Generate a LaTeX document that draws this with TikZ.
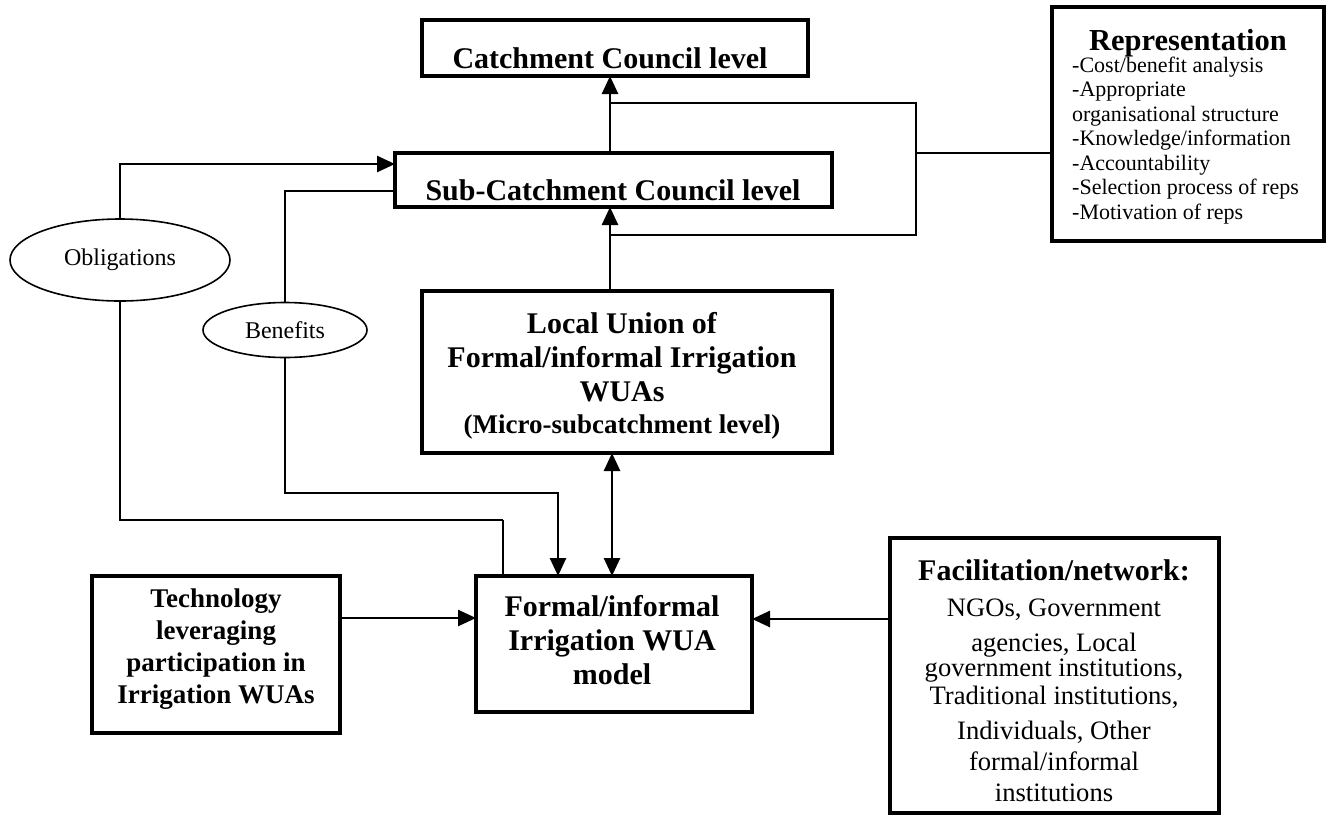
\documentclass[tikz,border=0pt]{standalone}
\usepackage{fontspec}
\setmainfont{Liberation Serif}
\usetikzlibrary{arrows.meta,shapes.geometric}
\begin{document}
\begin{tikzpicture}[x=1pt,y=-1pt,
  box/.style={draw, line width=3.3pt, inner sep=0pt, outer sep=0pt},
  oval/.style={draw, ellipse, line width=1.6pt, inner sep=0pt, font=\fontsize{24}{28}\selectfont},
  wire/.style={line width=2.6pt},
  thinwire/.style={line width=1.4pt},
  arr/.style={line width=2.6pt, -{Triangle[length=18pt,width=16pt]}},
  darr/.style={line width=2.6pt, {Triangle[length=18pt,width=16pt]}-{Triangle[length=18pt,width=16pt]}},
  bt/.style={font=\fontsize{30}{34}\selectfont\bfseries, inner sep=0pt, align=center},
  rt/.style={font=\fontsize{22}{24.5}\selectfont, inner sep=0pt, align=left},
]
\useasboundingbox (0,0) rectangle (1326,815);

% boxes
\node[box, minimum width=386pt, minimum height=56pt] (cat) at (615,48) {};
\node[box, minimum width=437pt, minimum height=54pt] (sub) at (613.5,180) {};
\node[box, minimum width=272pt, minimum height=234pt] (rep) at (1188,124) {};
\node[box, minimum width=410pt, minimum height=162pt] (loc) at (627,372) {};
\node[box, minimum width=276pt, minimum height=136pt] (wua) at (614,644) {};
\node[box, minimum width=248pt, minimum height=157pt] (tech) at (216,654.5) {};
\node[box, minimum width=329pt, minimum height=275pt] (fac) at (1054.5,675.5) {};

% ovals
\node[oval, minimum width=220pt, minimum height=82pt] (obl) at (120,260) {Obligations};
\node[oval, minimum width=164pt, minimum height=55pt] (ben) at (285,330) {Benefits};

% texts (multi-line nodes: base = baseline of last line)
\node[bt, anchor=base] (catT) at (610,68) {Catchment Council level};
\node[bt, anchor=base] (subT) at (613,200) {Sub-Catchment Council level};
\node[bt, anchor=base, font=\fontsize{30.5}{34}\selectfont\bfseries] (repT) at (1188,50) {Representation};
\node[rt, anchor=base west] (repL) at (1072,219) {-Cost/benefit analysis\\-Appropriate\\organisational structure\\-Knowledge/information\\-Accountability\\-Selection process of reps\\-Motivation of reps};
\node[bt, anchor=base] (locT) at (622,433) {Local Union of\\Formal/informal Irrigation\\WUAs\\[-2pt]{\fontsize{27}{30}\selectfont (Micro-subcatchment level)}};
\node[bt, anchor=base] (wuaT) at (612,684) {Formal/informal\\Irrigation WUA\\model};
\node[bt, anchor=base, font=\fontsize{27}{32}\selectfont\bfseries] (techT) at (216,703) {Technology\\leveraging\\participation in\\Irrigation WUAs};
\node[inner sep=0pt, align=center, anchor=base, font=\fontsize{26.6}{30}\selectfont] (facT) at (1054,801)
  {{\fontsize{30}{34}\selectfont\bfseries Facilitation/network:}\\[6pt]
   NGOs, Government\\[5pt]
   agencies, Local\\[-5pt]
   government institutions,\\[-2pt]
   Traditional institutions,\\[5pt]
   Individuals, Other\\[1pt]
   formal/informal\\[1pt]
   institutions};

% helper coordinates
\coordinate (ax) at (610,0);
\coordinate (dx) at (612,0);
\coordinate (y164) at (0,164);
\coordinate (y191) at (0,191);
\coordinate (c1) at (503,520);
\coordinate (c2) at (558,493);
\coordinate (bk1) at (610,103);
\coordinate (bk2) at (916,103);
\coordinate (bk3) at (916,235);
\coordinate (bkm) at (916,153);
\coordinate (y618) at (0,618);
\coordinate (y619) at (0,619);

% connectors
\draw[arr] (sub.north -| ax) -- (cat.south -| ax);
\draw[arr] (loc.north -| ax) -- (sub.south -| ax);
\draw[wire] (bk1) -- (bk2) -- (bk3) -- (bk3 -| ax);
\draw[wire] (bkm) -- (rep.west |- bkm);
\draw[darr] (loc.south -| dx) -- (wua.north -| dx);
\draw[arr] (obl.north) |- (sub.west |- y164);
\draw[wire] (obl.south) |- (c1);
\draw[thinwire] (c1) -- (wua.north -| c1);
\draw[wire] (sub.west |- y191) -| (ben.north);
\draw[arr] (ben.south) |- (c2) -- (wua.north -| c2);
\draw[arr] (tech.east |- y618) -- (wua.west |- y618);
\draw[arr] (fac.west |- y619) -- (wua.east |- y619);
\end{tikzpicture}
\end{document}
